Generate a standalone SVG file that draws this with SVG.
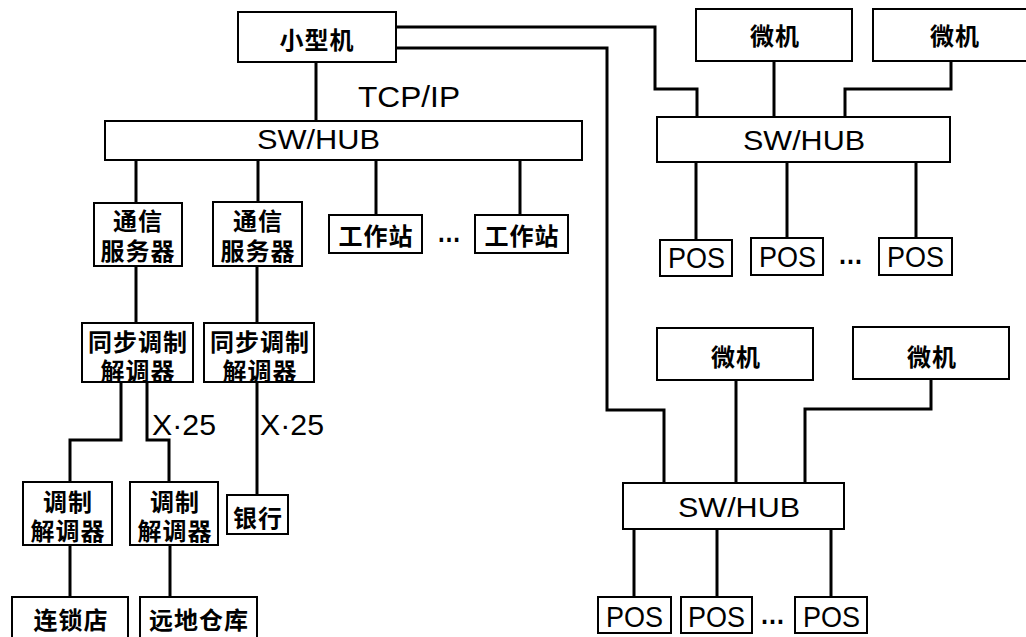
<svg xmlns="http://www.w3.org/2000/svg" width="1026" height="637" viewBox="0 0 1026 637">
<style>
.bg{fill:#fff}
.box{fill:#fff;stroke:#000;stroke-width:2}
.wire{fill:none;stroke:#000;stroke-width:3;stroke-linejoin:miter}
.cjk{font-family:"Noto Sans CJK SC","Noto Sans CJK JP",sans-serif;font-size:24px;font-weight:bold;letter-spacing:1px;text-anchor:middle;dominant-baseline:central;fill:#000}
.lat{font-family:"Liberation Sans","DejaVu Sans",sans-serif;fill:#000}
.dots{font-family:"Liberation Sans",sans-serif;font-weight:bold;font-size:28px;fill:#000}
</style>
<rect class="bg" x="0" y="0" width="1026" height="637"/>
<g id="connectors">
<polyline class="wire" points="316,62 316,121"/>
<polyline class="wire" points="396,27 655,27 655,89 697,89 697,117"/>
<polyline class="wire" points="396,48 607,48 607,410 664,410 664,483"/>
<polyline class="wire" points="136,160 136,203"/>
<polyline class="wire" points="258,160 258,202"/>
<polyline class="wire" points="376,160 376,215"/>
<polyline class="wire" points="520,160 520,215"/>
<polyline class="wire" points="136,266 136,323"/>
<polyline class="wire" points="257,266 257,323"/>
<polyline class="wire" points="121,382 121,440 70,440 70,482"/>
<polyline class="wire" points="147,382 147,440 169,440 169,482"/>
<polyline class="wire" points="257,382 257,495"/>
<polyline class="wire" points="70,545 70,597"/>
<polyline class="wire" points="170,545 170,597"/>
<polyline class="wire" points="774,61 774,117"/>
<polyline class="wire" points="951,61 951,89 845,89 845,117"/>
<polyline class="wire" points="696,162 696,240"/>
<polyline class="wire" points="787,162 787,238"/>
<polyline class="wire" points="916,162 916,238"/>
<polyline class="wire" points="736,380 736,483"/>
<polyline class="wire" points="931,379 931,409 805,409 805,483"/>
<polyline class="wire" points="634,529 634,597"/>
<polyline class="wire" points="717,529 717,597"/>
<polyline class="wire" points="831,529 831,597"/>
<text class="lat" x="358" y="107" font-size="30" textLength="102" lengthAdjust="spacingAndGlyphs">TCP/IP</text>
<text class="lat" x="152" y="435" font-size="29" textLength="64" lengthAdjust="spacingAndGlyphs">X·25</text>
<text class="lat" x="260" y="435" font-size="29" textLength="64" lengthAdjust="spacingAndGlyphs">X·25</text>
</g>
<g id="minicomputer"><rect class="box" x="238" y="12" width="158" height="50"/><text class="cjk" x="317" y="38">小型机</text></g>
<g id="hub-left"><rect class="box" x="105" y="121" width="477" height="39"/><text class="lat" x="257" y="149" font-size="27" textLength="123" lengthAdjust="spacingAndGlyphs">SW/HUB</text></g>
<g id="comm-server-1"><rect class="box" x="94" y="203" width="88" height="63"/><text class="cjk"><tspan x="138" y="219">通信</tspan><tspan x="138" y="249">服务器</tspan></text></g>
<g id="comm-server-2"><rect class="box" x="213" y="202" width="89" height="64"/><text class="cjk"><tspan x="258" y="219">通信</tspan><tspan x="258" y="249">服务器</tspan></text></g>
<g id="workstation-1"><rect class="box" x="329" y="215" width="93" height="38"/><text class="cjk" x="376" y="234">工作站</text></g>
<text class="dots" x="437" y="242" textLength="24" lengthAdjust="spacingAndGlyphs">…</text>
<g id="workstation-2"><rect class="box" x="475" y="215" width="93" height="38"/><text class="cjk" x="522" y="234">工作站</text></g>
<g id="sync-modem-1"><rect class="box" x="82" y="323" width="111" height="59"/><text class="cjk"><tspan x="138" y="340">同步调制</tspan><tspan x="138" y="369">解调器</tspan></text></g>
<g id="sync-modem-2"><rect class="box" x="204" y="323" width="110" height="59"/><text class="cjk"><tspan x="260" y="340">同步调制</tspan><tspan x="260" y="369">解调器</tspan></text></g>
<g id="modem-1"><rect class="box" x="23" y="482" width="89" height="63"/><text class="cjk"><tspan x="68" y="500">调制</tspan><tspan x="68" y="529">解调器</tspan></text></g>
<g id="modem-2"><rect class="box" x="130" y="482" width="88" height="63"/><text class="cjk"><tspan x="175" y="500">调制</tspan><tspan x="175" y="529">解调器</tspan></text></g>
<g id="bank"><rect class="box" x="227" y="495" width="61" height="39"/><text class="cjk" x="258" y="516">银行</text></g>
<g id="chain-store"><rect class="box" x="12" y="597" width="116" height="50"/><text class="cjk" x="71" y="618">连锁店</text></g>
<g id="remote-warehouse"><rect class="box" x="140" y="597" width="117" height="50"/><text class="cjk" x="199" y="618">远地仓库</text></g>
<g id="pc-1"><rect class="box" x="696" y="9" width="156" height="52"/><text class="cjk" x="775" y="34">微机</text></g>
<g id="pc-2"><rect class="box" x="873" y="9" width="162" height="52"/><text class="cjk" x="955" y="34">微机</text></g>
<g id="hub-right-top"><rect class="box" x="657" y="117" width="293" height="45"/><text class="lat" x="743" y="150" font-size="27" textLength="122" lengthAdjust="spacingAndGlyphs">SW/HUB</text></g>
<g id="pos-1"><rect class="box" x="660" y="240" width="72" height="36"/><text class="lat" x="668" y="268" font-size="30" textLength="57" lengthAdjust="spacingAndGlyphs">POS</text></g>
<g id="pos-2"><rect class="box" x="751" y="238" width="72" height="37"/><text class="lat" x="759" y="267" font-size="30" textLength="57" lengthAdjust="spacingAndGlyphs">POS</text></g>
<text class="dots" x="838" y="264" textLength="25" lengthAdjust="spacingAndGlyphs">…</text>
<g id="pos-3"><rect class="box" x="879" y="238" width="73" height="37"/><text class="lat" x="887" y="267" font-size="30" textLength="57" lengthAdjust="spacingAndGlyphs">POS</text></g>
<g id="pc-3"><rect class="box" x="657" y="328" width="156" height="52"/><text class="cjk" x="736" y="355">微机</text></g>
<g id="pc-4"><rect class="box" x="853" y="327" width="156" height="52"/><text class="cjk" x="932" y="355">微机</text></g>
<g id="hub-right-bottom"><rect class="box" x="623" y="483" width="221" height="46"/><text class="lat" x="678" y="517" font-size="27" textLength="122" lengthAdjust="spacingAndGlyphs">SW/HUB</text></g>
<g id="pos-4"><rect class="box" x="598" y="597" width="73" height="36"/><text class="lat" x="606" y="627" font-size="30" textLength="57" lengthAdjust="spacingAndGlyphs">POS</text></g>
<g id="pos-5"><rect class="box" x="681" y="597" width="71" height="36"/><text class="lat" x="688" y="627" font-size="30" textLength="57" lengthAdjust="spacingAndGlyphs">POS</text></g>
<text class="dots" x="760" y="624" textLength="25" lengthAdjust="spacingAndGlyphs">…</text>
<g id="pos-6"><rect class="box" x="795" y="597" width="72" height="36"/><text class="lat" x="803" y="627" font-size="30" textLength="57" lengthAdjust="spacingAndGlyphs">POS</text></g>
</svg>
